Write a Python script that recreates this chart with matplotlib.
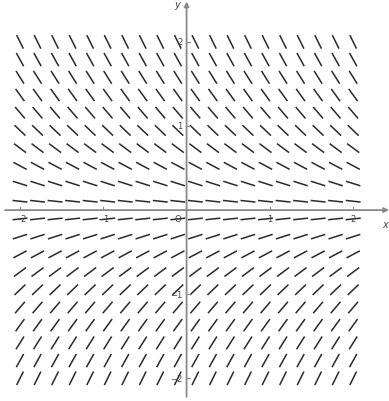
import numpy as np
import matplotlib
matplotlib.use("Agg")
import matplotlib.pyplot as plt
from matplotlib.collections import LineCollection

# slope field for dy/dx = -y on a 20 x 20 grid
xs = np.linspace(-2, 2, 20)
ys = np.linspace(-2, 2, 20)
x_ticks = [-2, -1, 1, 2]
x_tick_labels = ["−2", "−1", "1", "2"]
y_ticks = [2, 1, -1, -2]
y_tick_labels = ["2", "1", "−1", "−2"]


def slope(x, y):
    return -y


fig = plt.figure(figsize=(3.89, 4.02), dpi=100)
ax = fig.add_axes([0, 0, 1, 1])
ax.set_xlim(-2.24, 2.43)
ax.set_ylim(-2.27, 2.51)
ax.axis("off")

L = 0.18
segs = []
for y in ys:
    for x in xs:
        m = slope(x, y)
        dx = L / 2 / np.sqrt(1 + m * m)
        dy = m * dx
        segs.append([(x - dx, y - dy), (x + dx, y + dy)])
lc = LineCollection(segs, colors="#2a2a2a", linewidths=1.1)
ax.add_collection(lc)

# axes through the origin
axc = "#8a8a8a"
ax.annotate("", xy=(2.43, 0), xytext=(-2.18, 0),
            arrowprops=dict(arrowstyle="-|>", color=axc, lw=1.3,
                            mutation_scale=7, shrinkA=0, shrinkB=0))
ax.annotate("", xy=(0, 2.48), xytext=(0, -2.22),
            arrowprops=dict(arrowstyle="-|>", color=axc, lw=1.3,
                            mutation_scale=7, shrinkA=0, shrinkB=0))

for t, lab in zip(x_ticks, x_tick_labels):
    ax.plot([t, t], [0, 0.04], color=axc, lw=0.8)
    ax.text(t, -0.05, lab, ha="center", va="top", fontsize=6, color="#444444")
for t, lab in zip(y_ticks, y_tick_labels):
    ax.plot([0, 0.04], [t, t], color=axc, lw=0.8)
    ax.text(-0.05, t, lab, ha="right", va="center", fontsize=6, color="#444444")

ax.text(-0.06, -0.05, "O", ha="right", va="top", fontsize=6, color="#444444")
ax.text(2.38, -0.1, "x", ha="center", va="top", fontsize=7,
        style="italic", color="#444444")
ax.text(-0.08, 2.45, "y", ha="right", va="center", fontsize=7,
        style="italic", color="#444444")

fig.savefig("out.png", dpi=100)
